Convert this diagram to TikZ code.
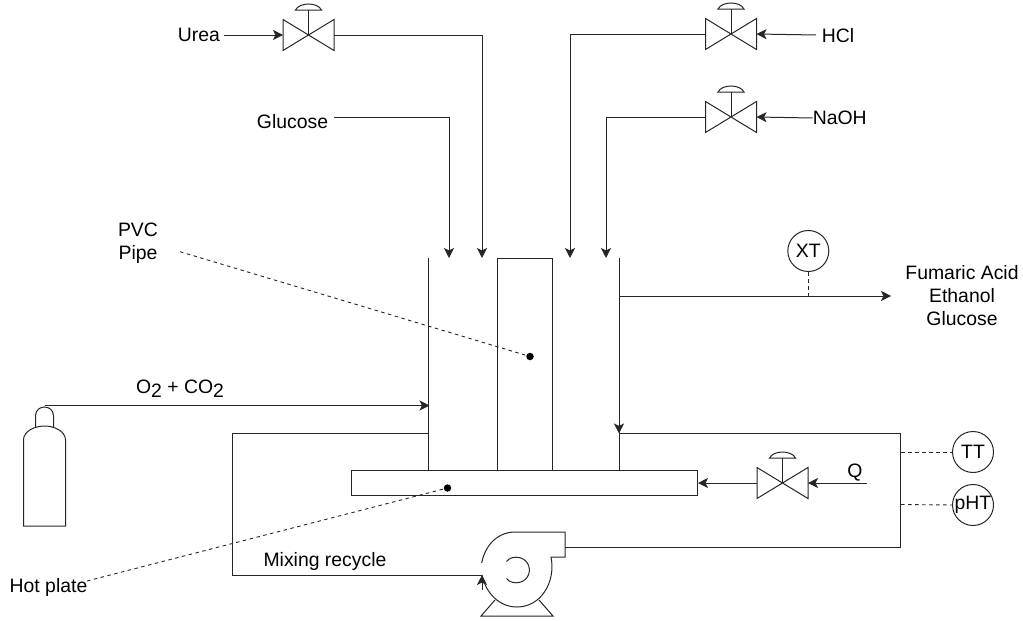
\documentclass[tikz,border=0pt]{standalone}
\usepackage{fontspec}
\setmainfont{Liberation Sans}
\usetikzlibrary{arrows.meta}
\tikzset{
  pipe/.style={line width=1pt,black!85},
  flow/.style={pipe,-{Stealth[length=10pt,width=10pt,inset=2.5pt]}},
  sig/.style={line width=0.9pt,black!85,dash pattern=on 3.5pt off 3.5pt},
  lab/.style={inner sep=0pt,font=\fontsize{19.4}{22.6}\selectfont,align=center},
  inst/.style={circle,draw=black!85,line width=1pt,minimum size=41pt,inner sep=0pt,font=\fontsize{19.4}{22.6}\selectfont},
  dot/.style={circle,fill=black,inner sep=0pt,minimum size=7.5pt}
}
\newcommand{\mysub}{\raisebox{-4pt}{2}}
\newcommand{\myvalve}[3]{%
  \coordinate (#1) at (#2,#3);
  \coordinate (#1L) at (#2-25.5,#3);
  \coordinate (#1R) at (#2+25.5,#3);
  \draw[pipe,line join=miter] (#2-25.5,#3-15.5) -- (#2+25.5,#3+15.5) -- (#2+25.5,#3-15.5) -- (#2-25.5,#3+15.5) -- cycle;
  \draw[pipe] (#2,#3) -- (#2,#3-25);
  \draw[pipe] (#2-13,#3-25) .. controls (#2-9,#3-33) and (#2+9,#3-33) .. (#2+13,#3-25) -- cycle;
}
\begin{document}
\begin{tikzpicture}[x=1pt,y=-1pt]
\useasboundingbox (0,0) rectangle (1023,621);
% valves
\myvalve{vU}{308.5}{35}
\myvalve{vH}{731}{34}
\myvalve{vN}{731}{117}
\myvalve{vQ}{782.5}{483}
% labels
\node[lab] (urea) at (199,35) {Urea};
\node[lab] (gluc) at (292.5,121.5) {Glucose};
\node[lab] (hcl) at (838,36) {HCl};
\node[lab] (naoh) at (839.7,118) {NaOH};
\node[lab] (q) at (855,473) {Q};
\node[lab] (pvc) at (138,243) {PVC\\Pipe};
\node[lab] (hot) at (48.5,587) {Hot plate};
\node[lab] (o2) at (180,389) {O\mysub{} + CO\mysub};
\node[lab] (mix) at (325,561.5) {Mixing recycle};
\node[lab] (prod) at (962,295.5) {Fumaric Acid\\Ethanol\\Glucose};
% instruments
\node[inst] (xt) at (808.3,251) {XT};
\node[inst] (tt) at (973,452) {TT};
\node[inst] (pht) at (973,505) {pHT};
% vessel
\coordinate (wLt) at (428,258); \coordinate (wLb) at (428,470);
\coordinate (wRt) at (619,258); \coordinate (wRb) at (619,470);
\draw[pipe] (wLt) -- (wLb);
\draw[pipe] (wRt) -- (wRb);
\node[draw=black!85,line width=1pt,minimum width=55pt,minimum height=212pt,inner sep=0pt] (tube) at (524.5,364) {};
\node[draw=black!85,line width=1pt,minimum width=346pt,minimum height=25pt,inner sep=0pt] (plate) at (524,482.5) {};
% feeds
\draw[flow] (224,35) -- (vUL);
\draw[pipe] (vUR) -- (482,35) coordinate (a);
\draw[flow] (a) -- (482,258);
\draw[flow] (334,117) -- (449,117) -- (449,258);
\draw[flow] (vHL) -- (570,34) -- (570,258);
\draw[flow] (vNL) -- (606,117) -- (606,258);
\draw[flow] (816,35) -- (vHR);
\draw[flow] (naoh.west) -- (vNR);
% outlet
\coordinate (outS) at (619,296);
\draw[flow] (outS) -- (891,296);
\draw[sig] (xt.south) -- (808.3,296);
% cylinder
\draw[pipe] (23.5,526) -- (23.5,440) .. controls (23.5,431) and (35,426) .. (44.5,426) .. controls (54,426) and (65.5,431) .. (65.5,440) -- (65.5,526) -- cycle;
\draw[pipe] (35.5,427) -- (35.5,416) .. controls (35.5,410) and (40,407) .. (44.5,407) .. controls (49,407) and (53.5,410) .. (53.5,416) -- (53.5,427);
\coordinate (cyl) at (45,405.5);
\draw[flow] (cyl) -- (429.5,405.5);
% pump
\draw[pipe] (481.7,563) .. controls (485,545) and (498,532) .. (515,532) -- (565,532) -- (565,557) -- (551,557)
  .. controls (556,582) and (541,607) .. (517,607) .. controls (500,607) and (486,594) .. (482,575);
\draw[pipe] (506.5,561.5) .. controls (512,554) and (529,556) .. (529.5,570) .. controls (529,584) and (512,586) .. (506.5,578.5);
\draw[pipe] (495,600) -- (481,616) -- (553,616) -- (539,600);
\coordinate (pIn) at (482,575);
\coordinate (pOut) at (565,547);
% recycle loop
\draw[pipe] (pOut) -- (900,547) -- (900,433) -- (619,433);
\draw[flow] (619,420) -- (619,433.5);
\draw[pipe] (428,433) -- (232,433) -- (232,575) -- (pIn);
\draw[flow] (482,590) -- (pIn);
% Q line
\draw[flow] (867,483) -- (vQR);
\draw[flow] (vQL) -- (698,483);
% dashed leaders
\node[dot] (d1) at (530,356.5) {};
\node[dot] (d2) at (447.5,488) {};
\draw[sig] (180,251.7) -- (d1);
\draw[sig] (87,581) -- (d2);
\draw[sig] (901,452) -- (tt.west);
\draw[sig] (901,504.5) -- (pht.west);
\end{tikzpicture}
\end{document}
